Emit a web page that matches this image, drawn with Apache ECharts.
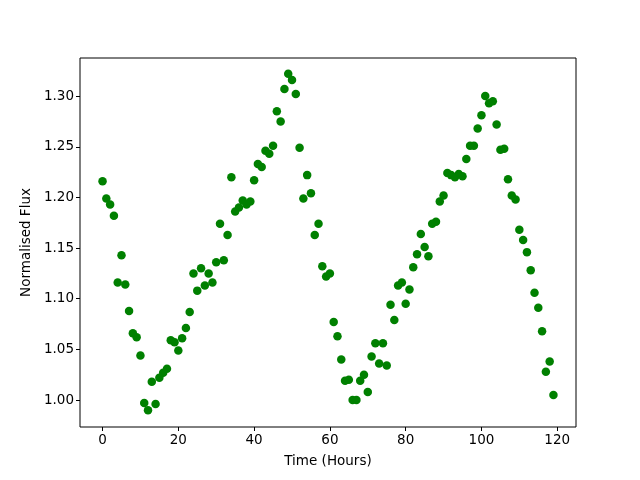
<!DOCTYPE html>
<html>
<head>
<meta charset="utf-8">
<script src="https://cdn.jsdelivr.net/npm/echarts@6/dist/echarts.min.js"></script>
<style>
  html, body { margin: 0; padding: 0; background: #fff; }
  #chart { width: 640px; height: 480px; }
</style>
</head>
<body>
<div id="chart"></div>
<script>
// time in hours, one reading per hour
var hours = [];
for (var h = 0; h < 120; h++) hours.push(h);

// normalised flux
var flux = [
  1.216, 1.199, 1.193, 1.182, 1.116, 1.143, 1.114, 1.088, 1.066, 1.062,
  1.044, 0.997, 0.990, 1.018, 0.996, 1.022, 1.027, 1.031, 1.059, 1.057,
  1.049, 1.061, 1.071, 1.087, 1.125, 1.108, 1.130, 1.113, 1.125, 1.116,
  1.136, 1.174, 1.138, 1.163, 1.220, 1.186, 1.190, 1.197, 1.193, 1.196,
  1.217, 1.233, 1.230, 1.246, 1.243, 1.251, 1.285, 1.275, 1.307, 1.322,
  1.316, 1.302, 1.249, 1.199, 1.222, 1.204, 1.163, 1.174, 1.132, 1.122,
  1.125, 1.077, 1.063, 1.040, 1.019, 1.020, 1.000, 1.000, 1.019, 1.025,
  1.008, 1.043, 1.056, 1.036, 1.056, 1.034, 1.094, 1.079, 1.113, 1.116,
  1.095, 1.109, 1.131, 1.144, 1.164, 1.151, 1.142, 1.174, 1.176, 1.196,
  1.202, 1.224, 1.222, 1.220, 1.223, 1.221, 1.238, 1.251, 1.251, 1.268,
  1.281, 1.300, 1.293, 1.295, 1.272, 1.247, 1.248, 1.218, 1.202, 1.198,
  1.168, 1.158, 1.146, 1.128, 1.106, 1.091, 1.068, 1.028, 1.038, 1.005
];

var xTicks = [0, 20, 40, 60, 80, 100, 120];
var yTicks = [1.00, 1.05, 1.10, 1.15, 1.20, 1.25, 1.30];

var points = [];
for (var i = 0; i < hours.length; i++) points.push([hours[i], flux[i]]);

var font = 'DejaVu Sans';
var chart = echarts.init(document.getElementById('chart'), null, { renderer: 'canvas' });
chart.setOption({
  animation: false,
  backgroundColor: '#fff',
  grid: {
    left: 80, right: 64, top: 58, bottom: 53,
    show: true, borderColor: '#000', borderWidth: 1, backgroundColor: 'transparent'
  },
  xAxis: {
    type: 'value',
    min: -5.95, max: 124.95,
    name: 'Time (Hours)',
    nameLocation: 'middle',
    nameGap: 27,
    nameTextStyle: { fontFamily: font, fontSize: 13.5, color: '#000' },
    splitLine: { show: false },
    axisLine: { show: false, onZero: false },
    axisTick: { show: true, inside: false, length: 4, lineStyle: { color: '#000' }, customValues: xTicks },
    axisLabel: {
      fontFamily: font, fontSize: 13.5, color: '#000', margin: 6,
      customValues: xTicks,
      formatter: function (v) { return String(v); }
    }
  },
  yAxis: {
    type: 'value',
    min: 0.9734, max: 1.3376,
    name: 'Normalised Flux',
    nameLocation: 'middle',
    nameGap: 47,
    nameTextStyle: { fontFamily: font, fontSize: 13.5, color: '#000' },
    splitLine: { show: false },
    axisLine: { show: false, onZero: false },
    axisTick: { show: true, inside: false, length: 4, lineStyle: { color: '#000' }, customValues: yTicks },
    axisLabel: {
      fontFamily: font, fontSize: 13.5, color: '#000', margin: 6,
      customValues: yTicks,
      formatter: function (v) { return v.toFixed(2); }
    }
  },
  series: [{
    type: 'scatter',
    data: points,
    symbol: 'circle',
    symbolSize: 8.5,
    itemStyle: { color: '#008000', opacity: 1 }
  }]
});
</script>
</body>
</html>
